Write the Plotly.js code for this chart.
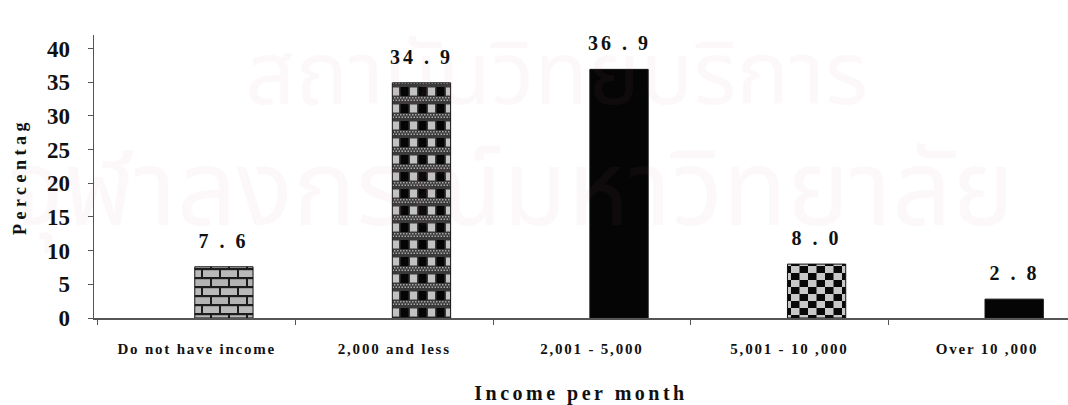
<!DOCTYPE html>
<html>
<head>
<meta charset="utf-8">
<script src="https://cdn.plot.ly/plotly-3.0.1.min.js"></script>
<style>
  html, body { margin: 0; padding: 0; background: #ffffff; }
  #chart { width: 1068px; height: 405px; }
  #fills { position: absolute; width: 0; height: 0; overflow: hidden; }
  .xtitle { letter-spacing: 3.5px; }
  .ytitle { letter-spacing: 4.5px; }
  .xtick text { letter-spacing: 1.8px; }
  g.annotation text { letter-spacing: 3px; }
  g.annotation[data-index="0"] text, g.annotation[data-index="1"] text { letter-spacing: 0; }
</style>
</head>
<body>
<!-- monochrome hatch fills used by the bars -->
<svg id="fills" xmlns="http://www.w3.org/2000/svg">
  <defs>
    <pattern id="fill-brick" patternUnits="userSpaceOnUse" width="18" height="18">
      <rect x="0" y="0" width="18" height="18" fill="#1c1c1c"/>
      <rect x="1" y="1.2" width="16" height="6.8" fill="#b9b9b9"/>
      <rect x="-8" y="10.2" width="16" height="6.8" fill="#b4b4b4"/>
      <rect x="10" y="10.2" width="16" height="6.8" fill="#b4b4b4"/>
    </pattern>
    <pattern id="fill-dots" patternUnits="userSpaceOnUse" width="18" height="17">
      <rect x="0" y="0" width="18" height="17" fill="#3a3a3a"/>
      <rect x="0.5" y="1" width="8" height="9" fill="#050505"/>
      <rect x="10" y="1.5" width="7" height="8" fill="#c2c2c2"/>
      <rect x="0" y="11" width="1.5" height="1.5" fill="#a8a8a8"/>
      <rect x="3" y="11" width="1.5" height="1.5" fill="#a8a8a8"/>
      <rect x="6" y="11" width="1.5" height="1.5" fill="#a8a8a8"/>
      <rect x="9" y="11" width="1.5" height="1.5" fill="#a8a8a8"/>
      <rect x="12" y="11" width="1.5" height="1.5" fill="#a8a8a8"/>
      <rect x="15" y="11" width="1.5" height="1.5" fill="#a8a8a8"/>
      <rect x="1.5" y="13.5" width="1.5" height="1.5" fill="#a8a8a8"/>
      <rect x="4.5" y="13.5" width="1.5" height="1.5" fill="#a8a8a8"/>
      <rect x="7.5" y="13.5" width="1.5" height="1.5" fill="#a8a8a8"/>
      <rect x="10.5" y="13.5" width="1.5" height="1.5" fill="#a8a8a8"/>
      <rect x="13.5" y="13.5" width="1.5" height="1.5" fill="#a8a8a8"/>
      <rect x="16.5" y="13.5" width="1.5" height="1.5" fill="#a8a8a8"/>
    </pattern>
    <pattern id="fill-checker" patternUnits="userSpaceOnUse" width="17" height="14">
      <rect x="0" y="0" width="17" height="14" fill="#c8c8c8"/>
      <rect x="0" y="0" width="8.5" height="7" fill="#080808"/>
      <rect x="8.5" y="7" width="8.5" height="7" fill="#080808"/>
    </pattern>
  </defs>
</svg>
<div id="chart"></div>
<script>
// Income groups and the share of respondents in each (%)
const categories = ['Do not have income', '2,000 and less', '2,001 - 5,000', '5,001 - 10 ,000', 'Over 10 ,000'];
const percentages = [7.6, 34.9, 36.9, 8.0, 2.8];
const yTicks = [0, 5, 10, 15, 20, 25, 30, 35, 40];
const watermarkLines = ['สถาบันวิทยบริการ', 'จุฬาลงกรณ์มหาวิทยาลัย'];
// fill style per bar: brick, dotted, solid, checker, solid
const barFills = ['brick', 'dots', 'solid', 'checker', 'solid'];

const serif = '"Liberation Serif", "Times New Roman", serif';
const thai = '"Noto Sans Thai", "Noto Sans", "DejaVu Sans", sans-serif';
const barWidth = 0.295;
const barOffset = -0.01;

// bar fills are applied through stylesheet rules so redraws keep them
const fillRules = barFills.map((f, i) => f === 'solid' ? '' :
  '.bars .point:nth-child(' + (i + 1) + ') path { fill: url(#fill-' + f + ') !important; }').join('\n');
const styleEl = document.createElement('style');
styleEl.textContent = fillRules;
document.head.appendChild(styleEl);

function valueLabel(v) {
  const parts = v.toFixed(1).split('.');
  return parts[0] + ' . ' + parts[1];
}

const trace = {
  type: 'bar',
  x: categories,
  y: percentages,
  width: barWidth,
  offset: barOffset,
  marker: { color: '#050505', line: { color: '#111111', width: 1 } },
  hoverinfo: 'skip'
};

const wmColor = 'rgba(205,130,165,0.055)';
const annotations = [
  { text: watermarkLines[0], xref: 'paper', yref: 'paper', x: 0.475, y: 0.85, xanchor: 'center', yanchor: 'middle',
    showarrow: false, font: { family: thai, size: 88, color: wmColor } },
  { text: watermarkLines[1], xref: 'paper', yref: 'paper', x: 0.428, y: 0.44, xanchor: 'center', yanchor: 'middle',
    showarrow: false, font: { family: thai, size: 105, color: wmColor } }
];

percentages.forEach((v, i) => {
  annotations.push({
    x: i + barOffset + barWidth / 2,
    y: v,
    xref: 'x', yref: 'y',
    text: valueLabel(v),
    showarrow: false,
    xanchor: 'center', yanchor: 'bottom',
    yshift: 13,
    font: { family: serif, size: 20, color: '#111111', weight: 'bold' }
  });
});

const layout = {
  width: 1068,
  height: 405,
  margin: { l: 94, r: 0, t: 35, b: 87 },
  paper_bgcolor: '#ffffff',
  plot_bgcolor: '#ffffff',
  showlegend: false,
  xaxis: {
    type: 'category',
    range: [-0.52, 4.41],
    showgrid: false,
    zeroline: false,
    showline: true,
    linecolor: '#555555',
    linewidth: 1.5,
    ticks: 'outside',
    tickson: 'boundaries',
    ticklen: 5,
    tickcolor: '#555555',
    ticklabelstandoff: 16,
    tickfont: { family: serif, size: 15, color: '#111111', weight: 'bold' },
    title: { text: 'Income per month', standoff: 30, font: { family: serif, size: 20, color: '#111111', weight: 'bold' } },
    fixedrange: true
  },
  yaxis: {
    range: [0, 42],
    tickvals: yTicks,
    ticktext: yTicks.map(String),
    showgrid: false,
    zeroline: false,
    showline: true,
    linecolor: '#555555',
    linewidth: 1.5,
    ticks: 'outside',
    ticklen: 5,
    tickcolor: '#555555',
    ticklabelstandoff: 13,
    tickfont: { family: serif, size: 23, color: '#111111', weight: 'bold' },
    title: { text: 'Percentag', standoff: 15, font: { family: serif, size: 18, color: '#111111', weight: 'bold' } },
    fixedrange: true
  },
  annotations: annotations
};

Plotly.newPlot('chart', [trace], layout, { displayModeBar: false, staticPlot: true });
</script>
</body>
</html>
